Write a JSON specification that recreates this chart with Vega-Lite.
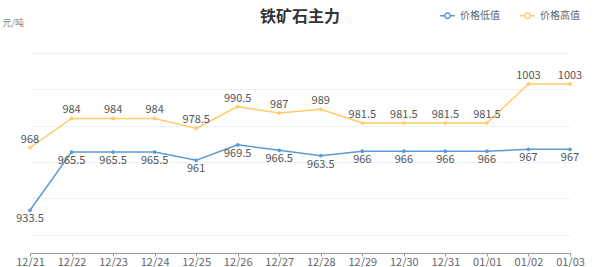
{
  "$schema": "https://vega.github.io/schema/vega-lite/v6.json",
  "width": 540,
  "height": 200,
  "autosize": {"type": "none"},
  "padding": {"left": 30, "top": 53, "right": 30, "bottom": 14},
  "background": "#ffffff",
  "config": {
    "font": "Noto Sans CJK SC",
    "view": {"stroke": null}
  },
  "title": {
    "text": "铁矿石主力",
    "anchor": "middle",
    "fontSize": 16,
    "fontWeight": "bold",
    "color": "#333333",
    "offset": -17,
    "font": "Noto Sans CJK SC"
  },
  "data": {
    "values": [
      {"date": "12/21", "series": "价格低值", "value": 933.5},
      {"date": "12/22", "series": "价格低值", "value": 965.5},
      {"date": "12/23", "series": "价格低值", "value": 965.5},
      {"date": "12/24", "series": "价格低值", "value": 965.5},
      {"date": "12/25", "series": "价格低值", "value": 961},
      {"date": "12/26", "series": "价格低值", "value": 969.5},
      {"date": "12/27", "series": "价格低值", "value": 966.5},
      {"date": "12/28", "series": "价格低值", "value": 963.5},
      {"date": "12/29", "series": "价格低值", "value": 966},
      {"date": "12/30", "series": "价格低值", "value": 966},
      {"date": "12/31", "series": "价格低值", "value": 966},
      {"date": "01/01", "series": "价格低值", "value": 966},
      {"date": "01/02", "series": "价格低值", "value": 967},
      {"date": "01/03", "series": "价格低值", "value": 967},
      {"date": "12/21", "series": "价格高值", "value": 968},
      {"date": "12/22", "series": "价格高值", "value": 984},
      {"date": "12/23", "series": "价格高值", "value": 984},
      {"date": "12/24", "series": "价格高值", "value": 984},
      {"date": "12/25", "series": "价格高值", "value": 978.5},
      {"date": "12/26", "series": "价格高值", "value": 990.5},
      {"date": "12/27", "series": "价格高值", "value": 987},
      {"date": "12/28", "series": "价格高值", "value": 989},
      {"date": "12/29", "series": "价格高值", "value": 981.5},
      {"date": "12/30", "series": "价格高值", "value": 981.5},
      {"date": "12/31", "series": "价格高值", "value": 981.5},
      {"date": "01/01", "series": "价格高值", "value": 981.5},
      {"date": "01/02", "series": "价格高值", "value": 1003},
      {"date": "01/03", "series": "价格高值", "value": 1003}
    ]
  },
  "encoding": {
    "x": {
      "field": "date",
      "type": "ordinal",
      "sort": null,
      "scale": {"type": "point", "padding": 0},
      "axis": {
        "title": null,
        "labelAngle": 0,
        "labelFontSize": 11,
        "labelColor": "#666666",
        "labelPadding": 0,
        "domainColor": "#999999",
        "tickColor": "#999999",
        "tickSize": 3,
        "grid": false
      }
    },
    "y": {
      "field": "value",
      "type": "quantitative",
      "scale": {"domain": [910, 1020], "nice": false, "zero": false},
      "axis": {
        "values": [920, 940, 960, 980, 1000, 1020],
        "grid": true,
        "gridColor": "#eef0f5",
        "domain": false,
        "ticks": false,
        "labels": false,
        "title": "元/吨",
        "titleAngle": 0,
        "titleAlign": "left",
        "titleBaseline": "middle",
        "titleX": -28,
        "titleY": -31,
        "titleFontSize": 9,
        "titleFontWeight": "normal",
        "titleColor": "#888888"
      }
    },
    "color": {
      "field": "series",
      "type": "nominal",
      "scale": {"domain": ["价格低值", "价格高值"], "range": ["#5B9BD5", "#FFCC66"]},
      "legend": {
        "title": null,
        "orient": "none",
        "legendX": 410,
        "legendY": -45,
        "direction": "horizontal",
        "symbolType": "M-1,-0.1L-0.42,-0.1L-0.42,0.1L-1,0.1ZM0.42,-0.1L1,-0.1L1,0.1L0.42,0.1ZM0.46,0L0.425,0.176L0.325,0.325L0.176,0.425L0,0.46L-0.176,0.425L-0.325,0.325L-0.425,0.176L-0.46,0L-0.425,-0.176L-0.325,-0.325L-0.176,-0.425L0,-0.46L0.176,-0.425L0.325,-0.325L0.425,-0.176ZM0.26,0L0.24,-0.1L0.184,-0.184L0.1,-0.24L0,-0.26L-0.1,-0.24L-0.184,-0.184L-0.24,-0.1L-0.26,0L-0.24,0.1L-0.184,0.184L-0.1,0.24L0,0.26L0.1,0.24L0.184,0.184L0.24,0.1Z",
        "symbolSize": 225,
        "symbolStrokeWidth": 0,
        "labelFontSize": 10,
        "labelColor": "#666666",
        "labelOffset": 5,
        "columnPadding": 20
      }
    }
  },
  "layer": [
    {
      "mark": {"type": "line", "strokeWidth": 1.5}
    },
    {
      "mark": {"type": "point", "filled": true, "size": 14, "opacity": 1},
      "encoding": {"color": {"field": "series", "type": "nominal", "legend": null}}
    },
    {
      "transform": [{"filter": "datum.series === '价格低值'"}],
      "mark": {"type": "text", "baseline": "top", "dy": 3, "fontSize": 11, "color": "#555555"},
      "encoding": {"text": {"field": "value", "type": "quantitative"}, "color": {"value": "#555555"}}
    },
    {
      "transform": [{"filter": "datum.series === '价格高值'"}],
      "mark": {"type": "text", "baseline": "bottom", "dy": -3, "fontSize": 11, "color": "#555555"},
      "encoding": {"text": {"field": "value", "type": "quantitative"}, "color": {"value": "#555555"}}
    }
  ]
}
